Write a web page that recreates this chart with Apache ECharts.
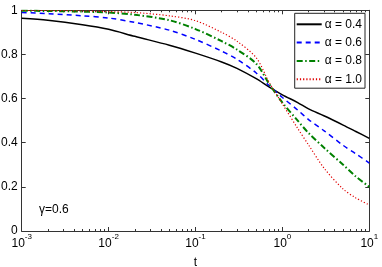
<!DOCTYPE html>
<html>
<head>
<meta charset="utf-8">
<script src="https://cdn.jsdelivr.net/npm/echarts@6/dist/echarts.min.js"></script>
<style>html,body{margin:0;padding:0;background:#fff}#c{width:382px;height:267px}</style>
</head>
<body>
<div id="c"></div>
<script>
const tValues = [0.001, 0.002, 0.005, 0.01, 0.02, 0.05, 0.1, 0.2, 0.3, 0.5, 0.7, 1, 1.5, 2, 3, 5, 7, 10];
const alpha04 = [0.964, 0.955, 0.935, 0.914, 0.882, 0.842, 0.806, 0.766, 0.737, 0.690, 0.653, 0.617, 0.582, 0.553, 0.522, 0.480, 0.451, 0.420];
const alpha06 = [0.990, 0.985, 0.975, 0.965, 0.945, 0.910, 0.868, 0.815, 0.778, 0.716, 0.660, 0.605, 0.548, 0.505, 0.455, 0.388, 0.350, 0.308];
const alpha08 = [0.998, 0.997, 0.994, 0.990, 0.980, 0.955, 0.915, 0.860, 0.822, 0.758, 0.668, 0.582, 0.500, 0.444, 0.378, 0.300, 0.247, 0.200];
const alpha10 = [0.999, 0.999, 0.997, 0.994, 0.990, 0.975, 0.953, 0.900, 0.860, 0.785, 0.675, 0.576, 0.465, 0.390, 0.286, 0.190, 0.150, 0.118];
const seriesNames = ['α = 0.4', 'α = 0.6', 'α = 0.8', 'α = 1.0'];
const xMajorTicks = [0.001, 0.01, 0.1, 1, 10];
const xMinorTicks = [];
for (let e = -3; e < 1; e++) for (let m = 2; m <= 9; m++) xMinorTicks.push(+(m * Math.pow(10, e)).toPrecision(3));
const noteText = 'γ=0.6';

const FONT = 'Liberation Sans';
const axisColor = '#333';
const pair = arr => tValues.map((t, i) => [t, arr[i]]);

function logAxis(pos, major, labels) {
  return {
    type: 'log', logBase: 10, min: 0.001, max: 10, position: pos,
    axisLine: { show: major, lineStyle: { color: axisColor, width: 1 } },
    axisTick: { show: true, inside: true, length: major ? 4 : 2, customValues: major ? xMajorTicks : xMinorTicks, lineStyle: { color: axisColor } },
    axisLabel: labels ? {
      show: true, customValues: xMajorTicks, margin: 2,
      formatter: v => '{b|10}{s|' + Math.round(Math.log10(v)) + '}',
      rich: {
        b: { fontSize: 12, fontFamily: FONT, color: '#000', lineHeight: 17, verticalAlign: 'bottom' },
        s: { fontSize: 8, fontFamily: FONT, color: '#000', lineHeight: 17, verticalAlign: 'top' }
      }
    } : { show: false },
    splitLine: { show: false },
    name: labels ? 't' : '', nameLocation: 'middle', nameGap: 26,
    nameTextStyle: { fontSize: 12, fontFamily: FONT, color: '#000' }
  };
}
function valAxis(pos, labels) {
  return {
    type: 'value', min: 0, max: 1, interval: 0.2, position: pos,
    axisLine: { show: true, lineStyle: { color: axisColor, width: 1 } },
    axisTick: { show: true, inside: true, length: 4, lineStyle: { color: axisColor } },
    axisLabel: labels ? { show: true, margin: 4, fontSize: 12, fontFamily: FONT, color: '#000', formatter: v => String(+v.toFixed(1)) } : { show: false },
    splitLine: { show: false }
  };
}

const chart = echarts.init(document.getElementById('c'), null, { renderer: 'canvas' });
chart.setOption({
  animation: false,
  backgroundColor: '#fff',
  grid: { left: 21.7, right: 12.7, top: 10.3, bottom: 36, containLabel: false, outerBoundsMode: 'none' },
  xAxis: [logAxis('bottom', true, true), logAxis('bottom', false, false), logAxis('top', true, false), logAxis('top', false, false)],
  yAxis: [valAxis('left', true), valAxis('right', false)],
  legend: {
    right: 17, top: 13.3, orient: 'vertical',
    backgroundColor: '#fff', borderColor: '#222', borderWidth: 1, borderRadius: 0,
    padding: [5, 3, 3, 1], itemWidth: 25, itemHeight: 12, itemGap: 6.3,
    itemStyle: { opacity: 0 },
    textStyle: { fontSize: 12, fontFamily: FONT, color: '#000', padding: [0, 0, 0, -2] },
    data: seriesNames
  },
  graphic: [{ type: 'text', left: 39, top: 204, style: { text: noteText, font: '12px "Liberation Sans"', fill: '#000' } }],
  series: [
    { name: seriesNames[0], type: 'line', data: pair(alpha04), symbol: 'none', smooth: 0.3, lineStyle: { color: '#000', width: 1.5, type: 'solid' }, itemStyle: { color: '#000' } },
    { name: seriesNames[1], type: 'line', data: pair(alpha06), symbol: 'none', smooth: 0.3, lineStyle: { color: '#0000ff', width: 1.5, type: [5, 4] }, itemStyle: { color: '#0000ff' } },
    { name: seriesNames[2], type: 'line', data: pair(alpha08), symbol: 'none', smooth: 0.3, lineStyle: { color: '#008000', width: 2, type: [6, 2.5, 1.5, 2.5] }, itemStyle: { color: '#008000' } },
    { name: seriesNames[3], type: 'line', data: pair(alpha10), symbol: 'none', smooth: 0.3, lineStyle: { color: '#e00000', width: 1.2, type: [1.2, 2] }, itemStyle: { color: '#e00000' } }
  ]
});
</script>
</body>
</html>
